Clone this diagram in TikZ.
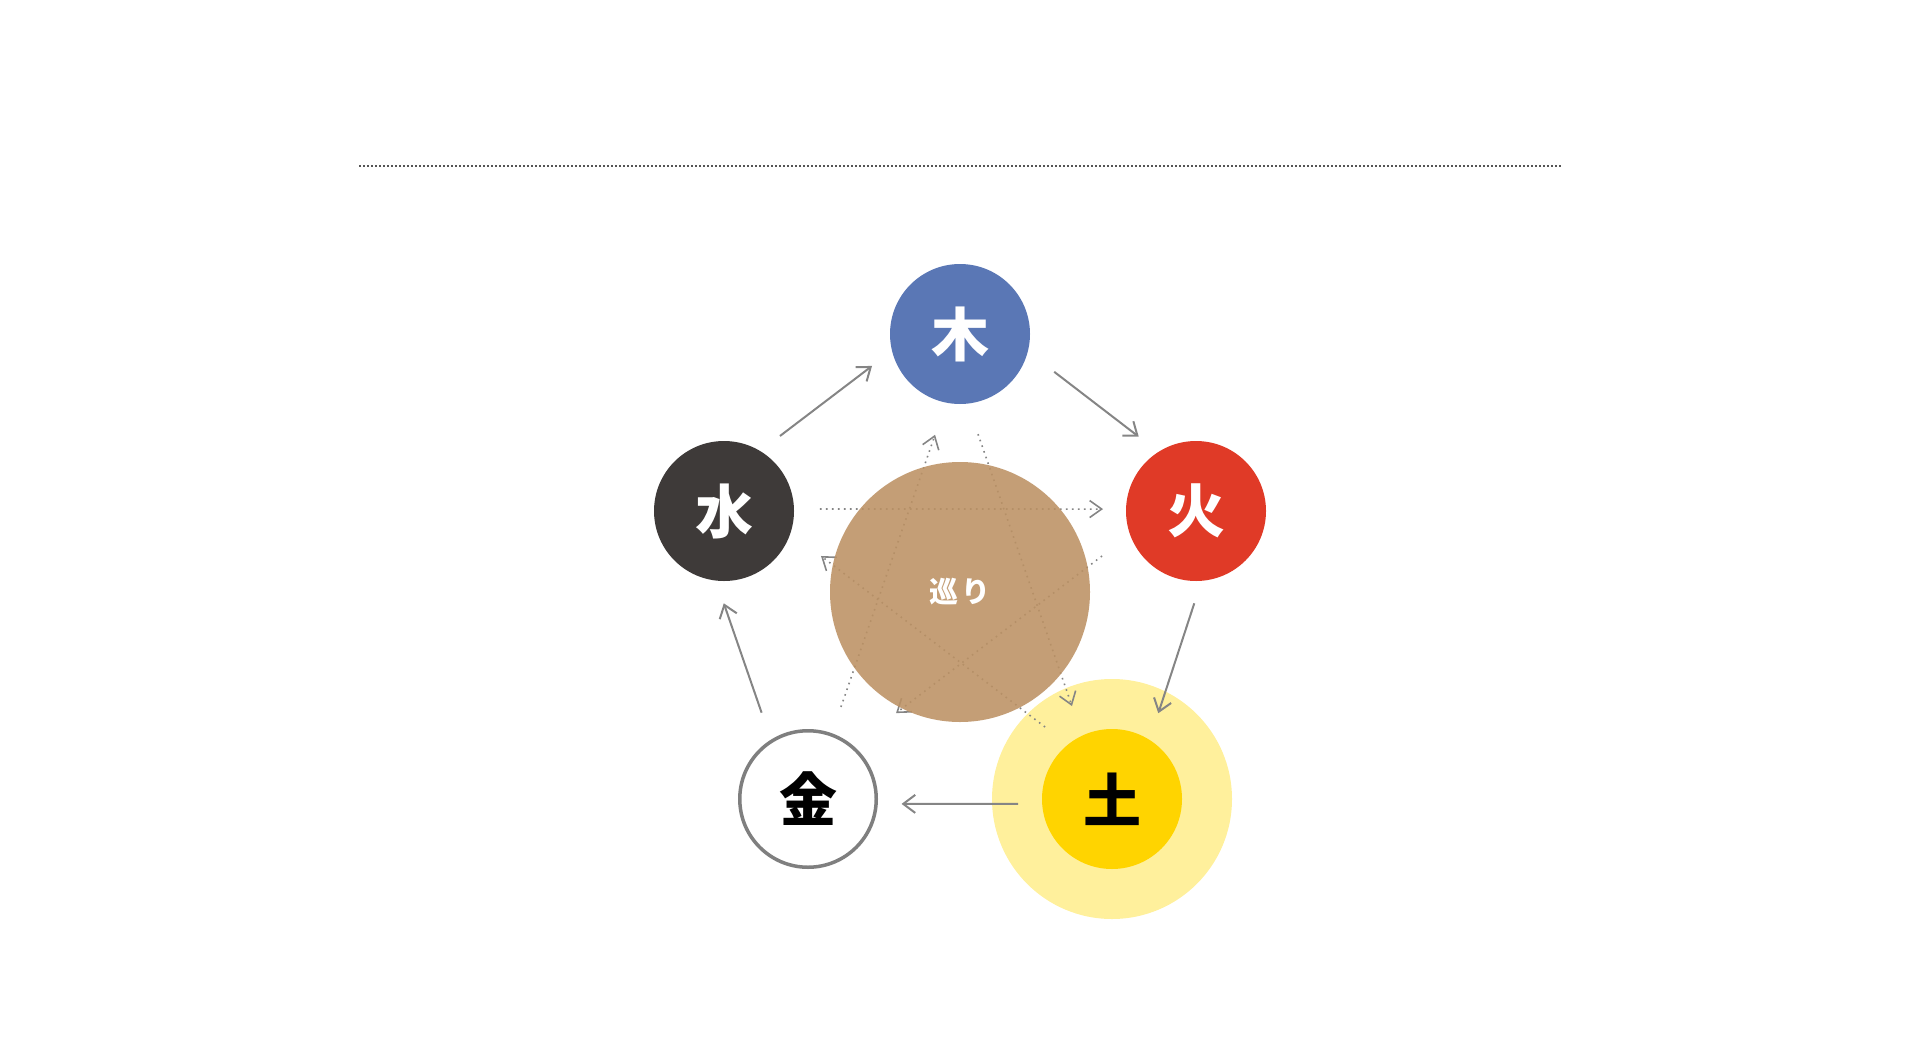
\documentclass[tikz,border=0pt]{standalone}
\usepackage{fontspec}
\newfontfamily\jpfont{Noto Sans CJK JP}
\usetikzlibrary{calc,arrows.meta}
\definecolor{mokublue}{HTML}{5A77B5}
\definecolor{kared}{HTML}{E03A27}
\definecolor{suidark}{HTML}{3E3A39}
\definecolor{tsuchiyellow}{HTML}{FFD400}
\definecolor{tsuchihalo}{HTML}{FFF09C}
\definecolor{kingray}{HTML}{7F7F7F}
\definecolor{linegray}{HTML}{858585}
\definecolor{rulegray}{HTML}{555555}
\definecolor{meguritan}{HTML}{BC9163}

\begin{document}
\begin{tikzpicture}[x=1pt,y=-1pt,
    element/.style={circle,minimum size=140pt,inner sep=0pt,
      font=\jpfont\bfseries\fontsize{58}{58}\selectfont},
    cyc/.style={draw=linegray,line width=2pt,
      -{Straight Barb[length=12pt,width=18pt]}},
    ctrl/.style={draw=linegray,line width=1.6pt,dash pattern=on 1.6pt off 4.4pt,
      -{Straight Barb[length=12pt,width=17pt]}}]
    \useasboundingbox (0,0) rectangle (1920,1052);
    % dotted rule at the top
    \draw[draw=rulegray,line width=1.5pt,dash pattern=on 1.5pt off 2.5pt] (359,166) -- (1561,166);
    % the five elements
    \node[circle,minimum size=240pt,fill=tsuchihalo] (halo) at (1112,799) {};
    \node[element,fill=mokublue,text=white] (moku) at (960,334) {木};
    \node[element,fill=kared,text=white] (ka) at (1196,511) {火};
    \node[element,fill=tsuchiyellow] (tsuchi) at (halo) {土};
    \node[element,draw=kingray,line width=3.5pt,minimum size=136.5pt,fill=white] (kin) at (808,799) {金};
    \node[element,fill=suidark,text=white] (sui) at (724,511) {水};
    % generating cycle
    \foreach \a/\b/\ds/\ts/\de/\te in {
        sui/moku/93.6pt/16.4/93.6pt/-16.9,
        moku/ka/101.5pt/15/93.8pt/-15.5,
        ka/tsuchi/92.3pt/15.2/97.5pt/-12.1,
        tsuchi/kin/94pt/3/93.7pt/-3,
        kin/sui/98pt/12/92.3pt/-16.4}
            \draw[cyc] ($(\a)!\ds!\ts:(\b)$) -- ($(\b)!\de!\te:(\a)$);
    % controlling star
    \foreach \a/\b/\ds/\ts/\de/\te in {
        sui/ka/96pt/1.2/93pt/-1.2,
        ka/kin/104.2pt/-11/123pt/7.7,
        kin/moku/97.8pt/-1.6/103.8pt/4.2,
        moku/tsuchi/101.7pt/-7.9/101.2pt/5.2,
        tsuchi/sui/98.3pt/-10.5/106.9pt/11.7}
            \draw[ctrl] ($(\a)!\ds!\ts:(\b)$) -- ($(\b)!\de!\te:(\a)$);
    % centre
    \node[circle,minimum size=260pt,inner sep=0pt,fill=meguritan,fill opacity=.88,
      text opacity=1,text=white,font=\jpfont\bfseries\fontsize{29}{29}\selectfont]
      (meguri) at (960,592) {巡\hspace{3pt}り};
\end{tikzpicture}
\end{document}
